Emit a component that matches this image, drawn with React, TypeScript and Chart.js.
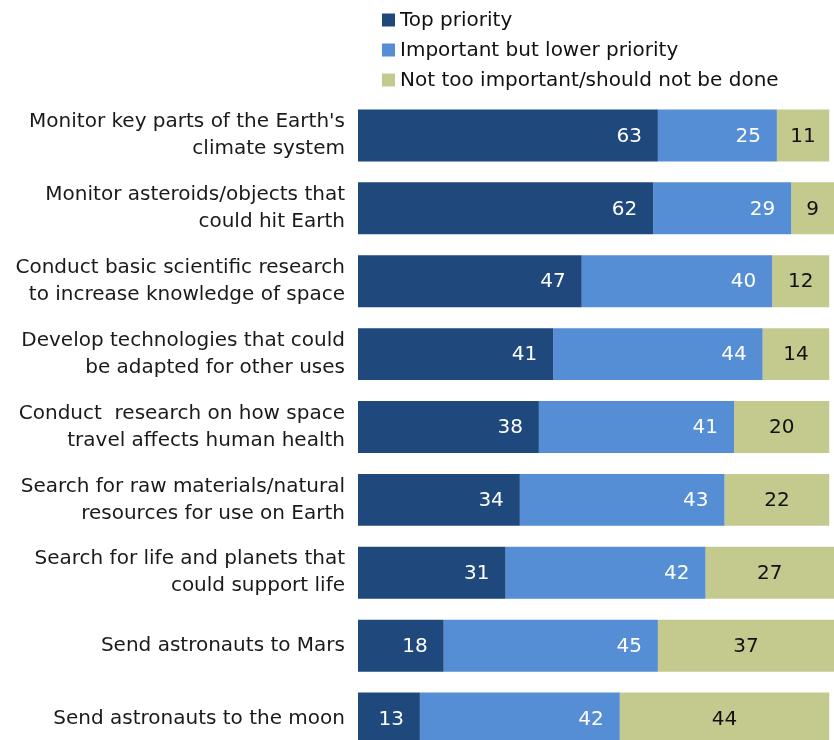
import React, { useEffect, useRef } from "react";
import { Chart, registerables } from "chart.js";

Chart.register(...registerables);

const categories: string[][] = [
  ["Monitor key parts of the Earth's", "climate system"],
  ["Monitor asteroids/objects that", "could hit Earth"],
  ["Conduct basic scientific research", "to increase knowledge of space"],
  ["Develop technologies that could", "be adapted for other uses"],
  ["Conduct  research on how space", "travel affects human health"],
  ["Search for raw materials/natural", "resources for use on Earth"],
  ["Search for life and planets that", "could support life"],
  ["Send astronauts to Mars"],
  ["Send astronauts to the moon"],
];

const seriesNames = [
  "Top priority",
  "Important but lower priority",
  "Not too important/should not be done",
];

const topPriority = [63, 62, 47, 41, 38, 34, 31, 18, 13];
const lowerPriority = [25, 29, 40, 44, 41, 43, 42, 45, 42];
const notImportant = [11, 9, 12, 14, 20, 22, 27, 37, 44];

const colors = ["#1f497d", "#558ed5", "#c4c98e"];
const labelColors = ["#ffffff", "#ffffff", "#111111"];

const FONT = "'DejaVu Sans', sans-serif";

const legendPlugin = {
  id: "customLegend",
  afterDraw(chart: any) {
    const ctx = chart.ctx;
    ctx.save();
    ctx.font = `20px ${FONT}`;
    ctx.textBaseline = "middle";
    ctx.textAlign = "left";
    chart.data.datasets.forEach((ds: any, i: number) => {
      const cy = 20 + i * 30;
      ctx.fillStyle = ds.backgroundColor;
      ctx.fillRect(382, cy - 6.5, 13, 13);
      ctx.fillStyle = "#111111";
      ctx.fillText(ds.label, 400, cy + 1);
    });
    ctx.restore();
  },
};

const valueLabelPlugin = {
  id: "valueLabels",
  afterDatasetsDraw(chart: any) {
    const ctx = chart.ctx;
    ctx.save();
    ctx.font = `20px ${FONT}`;
    ctx.textBaseline = "middle";
    chart.data.datasets.forEach((ds: any, di: number) => {
      const meta = chart.getDatasetMeta(di);
      meta.data.forEach((el: any, idx: number) => {
        const v = ds.data[idx];
        const start = Math.min(el.x, el.base);
        const end = Math.max(el.x, el.base);
        ctx.fillStyle = labelColors[di];
        if (di < 2) {
          ctx.textAlign = "right";
          ctx.fillText(String(v), end - 16, el.y + 1);
        } else {
          ctx.textAlign = "center";
          ctx.fillText(String(v), (start + end) / 2, el.y + 1);
        }
      });
    });
    ctx.restore();
  },
};

export default function App() {
  const ref = useRef<HTMLCanvasElement | null>(null);

  useEffect(() => {
    if (!ref.current) return;
    const chart = new Chart(ref.current, {
      type: "bar",
      data: {
        labels: categories,
        datasets: [
          { label: seriesNames[0], data: topPriority, backgroundColor: colors[0] },
          { label: seriesNames[1], data: lowerPriority, backgroundColor: colors[1] },
          { label: seriesNames[2], data: notImportant, backgroundColor: colors[2] },
        ],
      },
      options: {
        indexAxis: "y",
        responsive: true,
        maintainAspectRatio: false,
        animation: false,
        layout: { padding: { top: 99, bottom: 1, left: 0, right: 0 } },
        datasets: {
          bar: { barPercentage: 0.713, categoryPercentage: 1 },
        },
        scales: {
          x: {
            stacked: true,
            min: 0,
            max: 100,
            display: false,
          },
          y: {
            stacked: true,
            grid: { display: false, drawTicks: false },
            border: { display: false },
            ticks: {
              padding: 13,
              color: "#1a1a1a",
              autoSkip: false,
              font: { size: 20, family: FONT, lineHeight: 1.35 },
            },
            afterFit: (scale: any) => {
              scale.width = 358;
              scale.paddingTop = 0;
              scale.paddingBottom = 0;
            },
          },
        },
        plugins: {
          legend: { display: false },
          tooltip: { enabled: false },
        },
      },
      plugins: [legendPlugin, valueLabelPlugin],
    });
    return () => chart.destroy();
  }, []);

  return (
    <div
      style={{
        position: "absolute",
        top: 0,
        left: 0,
        width: 834,
        height: 740,
        overflow: "hidden",
        background: "#ffffff",
      }}
    >
      <div style={{ position: "relative", width: 834, height: 756 }}>
        <canvas ref={ref} />
      </div>
    </div>
  );
}
